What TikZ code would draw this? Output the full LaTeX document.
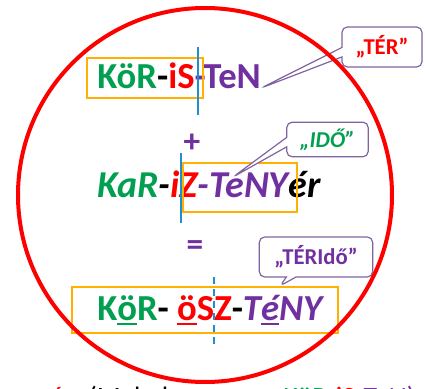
\documentclass[tikz,border=0pt]{standalone}
\usepackage{fontspec}
\setmainfont{Carlito}
\usetikzlibrary{shapes.callouts,positioning}

\definecolor{kgreen}{HTML}{00A050}
\definecolor{kred}{HTML}{FF0000}
\definecolor{kpurple}{HTML}{7030A0}
\definecolor{korange}{HTML}{FFB000}
\definecolor{kblue}{HTML}{1E90D0}
\definecolor{kframe}{HTML}{8064A2}

% thick underline for the vowels
\newcommand{\ulv}[1]{\setbox0\hbox{#1}\rlap{\rule[-3.4pt]{\wd0}{1.4pt}}#1}

\tikzset{
  word/.style={inner sep=0pt, anchor=base west, font=\fontsize{27.5}{32}\selectfont\bfseries},
  wordit/.style={word, font=\fontsize{28.5}{33}\selectfont\bfseries\itshape},
  wordbig/.style={word, font=\fontsize{27.5}{32}\selectfont\bfseries},
  sign/.style={inner sep=0pt, text=kpurple, font=\fontsize{25}{30}\selectfont\bfseries},
  hbox/.style={draw=korange, line width=2.2pt},
  cut/.style={draw=kblue, line width=2pt},
  note/.style={rectangle callout, draw=kframe, line width=0.9pt, rounded corners=4pt,
    fill=white, inner sep=2pt, font=\fontsize{17}{20}\selectfont\bfseries},
  tail/.style={inner sep=0pt, anchor=base west, font=\fontsize{21}{25}\selectfont}
}

\begin{document}
\begin{tikzpicture}[x=0.75pt, y=-0.75pt]
  \useasboundingbox (0,0) rectangle (425,389);

  % Row 1
  \node[word] (row1) at (97,88) {\textcolor{kgreen}{KöR}-\textcolor{kred}{iS}\textcolor{kpurple}{-TeN}};
  \draw[hbox] (87,58) rectangle (203,98);
  \draw[cut] (198,47) -- (198,115);
  \node[sign] (plus) at (192,143) {+};

  % Row 2
  \node[wordit] (row2) at (97,197) {\textcolor{kgreen}{KaR}-\textcolor{kred}{iZ}\textcolor{kpurple}{-TeNY}ér};
  \draw[hbox] (183,163) rectangle (297,212);
  \draw[cut] (181,153) -- (181,223);
  \coordinate (tip2) at (233,177);
  \node[sign] (equal) at (195,248) {=};

  % Row 3
  \node[wordbig] (row3) at (97,320) {\textcolor{kgreen}{K\ulv{ö}R}- \textcolor{kred}{\ulv{ö}SZ}-\textcolor{kpurple}{\itshape T\ulv{é}NY}};
  \draw[hbox] (72,287) rectangle (338,333);
  \draw[cut, dash pattern=on 5pt off 4pt] (214,277) -- (214,345);
  \coordinate (tip3) at (280,286);

  % Callouts
  \node[note, text=kred, minimum width=60pt, minimum height=30pt,
    callout absolute pointer={(row1.base east)}] (ter) at (382,47) {„TÉR”};
  \node[note, text=kgreen, minimum width=61pt, minimum height=26pt,
    font=\fontsize{17}{20}\selectfont\bfseries\itshape,
    callout absolute pointer={(tip2)}] (ido) at (327.5,139.5) {„IDŐ”};
  \node[note, text=kpurple, minimum width=85pt, minimum height=30pt,
    callout absolute pointer={(tip3)}] (terido) at (316,257) {„TÉRIdő”};

  % Circle
  \draw[kred, line width=3pt] (205,195) circle (187);

  % Cut-off line below
  \node[tail, text=kred] (tailA) at (50,406) {ós};
  \node[tail] (tailB) at (88,406) {(Mahakasa};
  \node[tail] (tailC) at (283,406) {\textcolor{kgreen}{KöR-}\textcolor{kred}{iS}-\textcolor{kpurple}{TeN)}};
\end{tikzpicture}
\end{document}
